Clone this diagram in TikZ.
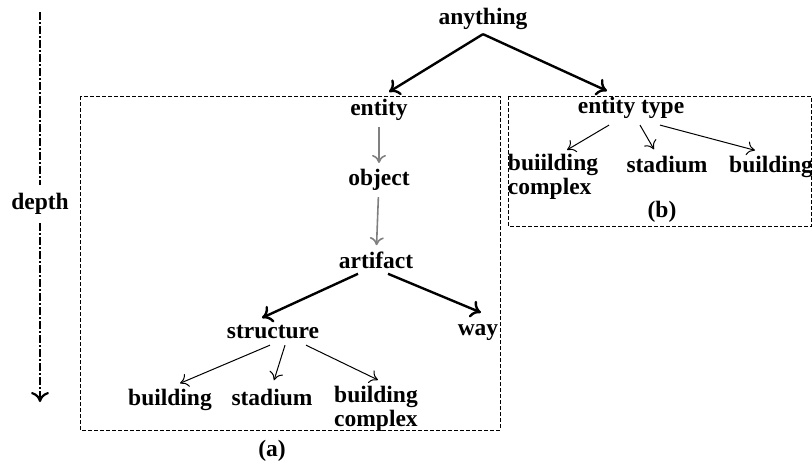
\documentclass[tikz,border=0pt]{standalone}
\usepackage{fontspec}
\setmainfont{Liberation Serif}
\usetikzlibrary{arrows.meta}

\begin{document}
\begin{tikzpicture}[x=0.5pt, y=-0.5pt,
  every node/.append style={font=\fontsize{11.75}{12}\selectfont\bfseries, inner sep=1pt},
  bold arrow/.style={line width=1.2pt, -{To[length=5pt,width=9pt]}},
  thin arrow/.style={line width=0.5pt, -{To[length=4pt,width=7pt]}},
  grey arrow/.style={line width=0.8pt, draw=gray, -{To[length=4pt,width=7pt]}, shorten <=2pt, shorten >=2pt},
  group box/.style={draw, dash pattern=on 2pt off 1pt, line width=0.4pt},
  depth line/.style={line width=1.1pt, dash pattern=on 4pt off 1pt on 1pt off 1pt}]
\useasboundingbox (0,0) rectangle (812,462);

% groups (a) and (b)
\draw [group box] (80,96) rectangle (500,430);
\draw [group box] (508,96) rectangle (811.5,226);

% top and group (a)
\node (anything) at (483,19) {anything};
\node (entity) at (379,110) {entity};
\node (object) at (379,180) {object};
\node (artifact) at (376,260) {artifact};
\node (structure) at (273,332) {structure};
\node (way) at (478,333) {way};
\node [anchor=base] (buildA) at (170,405) {building};
\node [anchor=base] (stadA) at (272,405) {stadium};
\node [align=left] (complexA) at (376,409) {building\\complex};
\node (labelA) at (272,451) {(a)};

% group (b)
\node (etype) at (631,108) {entity type};
\node [align=left] (complexB) at (553,177) {buiilding\\complex};
\node [anchor=base] (stadB) at (667,172) {stadium};
\node [anchor=base] (buildB) at (771,172) {building};
\node (labelB) at (662,212) {(b)};

\draw [bold arrow] ([shift={(0,2)}]anything.south) -- ([shift={(10,-5)}]entity.north);
\draw [bold arrow] ([shift={(0,2)}]anything.south) -- ([shift={(-24,-4)}]etype.north);
\draw [grey arrow] (entity) -- (object);
\draw [grey arrow] (object) -- (artifact);
\draw [bold arrow] ([shift={(-18,3)}]artifact.south) -- ([shift={(-11,-5)}]structure.north);
\draw [bold arrow] ([shift={(12,3)}]artifact.south) -- ([shift={(3,-10)}]way.north);
\draw [thin arrow] ([shift={(-3,4)}]structure.south) -- ([shift={(10,-3)}]buildA.north);
\draw [thin arrow] ([shift={(12,4)}]structure.south) -- ([shift={(2,-6)}]stadA.north);
\draw [thin arrow] ([shift={(33,4)}]structure.south) -- ([shift={(2,-4)}]complexA.north);
\draw [thin arrow] ([shift={(-22,4)}]etype.south) -- ([shift={(14,-2)}]complexB.north);
\draw [thin arrow] ([shift={(9,4)}]etype.south) -- ([shift={(-13,-4)}]stadB.north);
\draw [thin arrow] ([shift={(29,4)}]etype.south) -- ([shift={(-16,-3)}]buildB.north);

% depth axis
\coordinate (dtop) at (40,12);
\coordinate (dbottom) at (40,402);
\node [inner sep=4pt] (depth) at (40,204) {depth};
\draw [depth line] (dtop) -- (depth);
\draw [depth line, -{To[length=5pt,width=9pt]}] (depth) -- (dbottom);
\end{tikzpicture}
\end{document}
